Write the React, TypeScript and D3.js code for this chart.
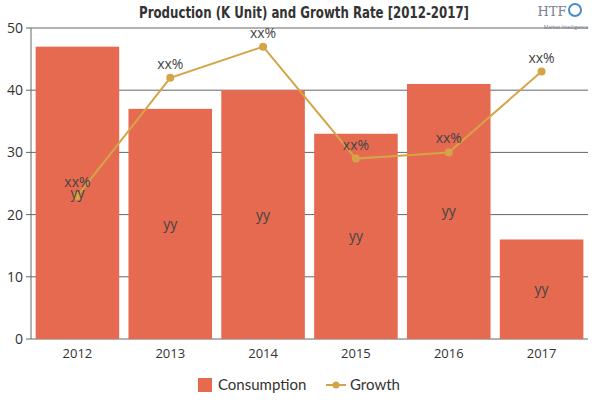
import React from "react";
import * as d3 from "d3";

const years = ["2012", "2013", "2014", "2015", "2016", "2017"];
const consumption = [47, 37, 40, 33, 41, 16];
const growth = [23, 42, 47, 29, 30, 43];
const yTicks = [0, 10, 20, 30, 40, 50];
const barLabels = ["yy", "yy", "yy", "yy", "yy", "yy"];
const growthLabels = ["xx%", "xx%", "xx%", "xx%", "xx%", "xx%"];

const W = 600;
const H = 400;
const margin = { left: 31, right: 12, top: 28, bottom: 61 };

const BAR = "#E66A50";
const LINE = "#D4A548";
const TEXT = "#333";
const FONT = "'Open Sans', 'Noto Sans', sans-serif";

export default function App() {
  const x = d3
    .scaleBand<string>()
    .domain(years)
    .range([margin.left, W - margin.right])
    .paddingInner(0.1)
    .paddingOuter(0.05);
  const y = d3
    .scaleLinear()
    .domain([0, 50])
    .range([H - margin.bottom, margin.top]);

  const cx = (i: number) => (x(years[i]) as number) + x.bandwidth() / 2;

  const line = d3
    .line<number>()
    .x((_, i) => cx(i))
    .y((d) => y(d));

  return (
    <svg
      width={W}
      height={H}
      style={{ position: "absolute", left: 0, top: 0, background: "#fff" }}
    >
      {/* title */}
      <text
        x={304}
        y={18}
        textAnchor="middle"
        fontFamily="'DejaVu Sans Condensed', 'DejaVu Sans', sans-serif"
        fontWeight="bold"
        fontSize={16}
        textLength={330}
        lengthAdjust="spacingAndGlyphs"
        fill="#333"
      >
        Production (K Unit) and Growth Rate [2012-2017]
      </text>

      {/* brand mark */}
      <g fill="#7a8290" fontFamily="'DejaVu Serif', serif">
        <text x={552} y={16} fontSize={13} textAnchor="middle">
          HTF
        </text>
        <circle cx={575} cy={10} r={6} fill="none" stroke="#4a8cc8" strokeWidth={2} />
        <text x={566} y={29} fontSize={5} textAnchor="middle" fontFamily={FONT}>
          Market Intelligence
        </text>
      </g>

      {/* horizontal grid */}
      {yTicks.map((t) => (
        <line
          key={t}
          x1={margin.left}
          x2={W - margin.right}
          y1={y(t)}
          y2={y(t)}
          stroke="#666"
          strokeWidth={1}
        />
      ))}

      {/* bars */}
      {consumption.map((v, i) => (
        <rect
          key={years[i]}
          x={x(years[i])}
          y={y(v)}
          width={x.bandwidth()}
          height={y(0) - y(v)}
          fill={BAR}
        />
      ))}

      {/* y axis */}
      <line
        x1={margin.left}
        x2={margin.left}
        y1={y(0)}
        y2={y(50)}
        stroke="#666"
      />
      {yTicks.map((t) => (
        <g key={t}>
          <line
            x1={margin.left - 5}
            x2={margin.left}
            y1={y(t)}
            y2={y(t)}
            stroke="#666"
          />
          <text
            x={margin.left - 8}
            y={y(t)}
            dy="0.35em"
            textAnchor="end"
            fontFamily={FONT}
            fontSize={14}
            fill={TEXT}
          >
            {t}
          </text>
        </g>
      ))}

      {/* x axis labels */}
      {years.map((yr, i) => (
        <text
          key={yr}
          x={cx(i)}
          y={y(0) + 19}
          textAnchor="middle"
          fontFamily={FONT}
          fontSize={13}
          fill={TEXT}
        >
          {yr}
        </text>
      ))}

      {/* growth line */}
      <path d={line(growth) ?? ""} fill="none" stroke={LINE} strokeWidth={2} />
      {growth.map((v, i) => (
        <circle key={years[i]} cx={cx(i)} cy={y(v)} r={4} fill={LINE} />
      ))}

      {/* bar value labels */}
      {consumption.map((v, i) => (
        <text
          key={years[i]}
          x={cx(i)}
          y={(y(v) + y(0)) / 2}
          dy="0.35em"
          textAnchor="middle"
          fontFamily={FONT}
          fontSize={14}
          fill="#444"
        >
          {barLabels[i]}
        </text>
      ))}

      {/* growth value labels */}
      {growth.map((v, i) => (
        <text
          key={years[i]}
          x={cx(i)}
          y={y(v) - 9}
          textAnchor="middle"
          fontFamily={FONT}
          fontSize={14}
          fill="#444"
        >
          {growthLabels[i]}
        </text>
      ))}

      {/* legend */}
      <rect x={198} y={378} width={14} height={14} fill={BAR} />
      <text x={218} y={390} fontFamily="Lato, 'Noto Sans', sans-serif" fontSize={15} fill={TEXT}>
        Consumption
      </text>
      <line x1={326} x2={346} y1={385} y2={385} stroke={LINE} strokeWidth={2} />
      <circle cx={336} cy={385} r={3.5} fill={LINE} />
      <text x={350} y={390} fontFamily="Lato, 'Noto Sans', sans-serif" fontSize={15} fill={TEXT}>
        Growth
      </text>
    </svg>
  );
}
